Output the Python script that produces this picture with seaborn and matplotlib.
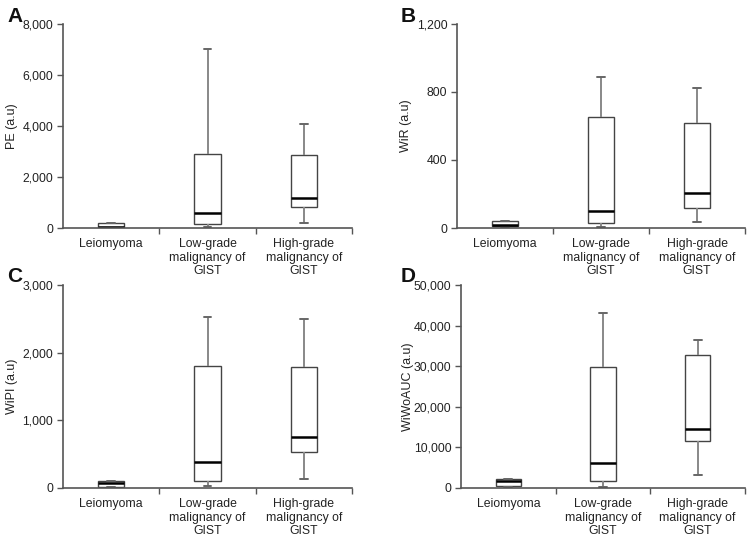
import numpy as np
import pandas as pd
import matplotlib
matplotlib.use('Agg')
import matplotlib.pyplot as plt
from matplotlib.ticker import FuncFormatter
import seaborn as sns

# Gruppen
groups = ['Leiomyoma', 'Low-grade malignancy of GIST', 'High-grade malignancy of GIST']
tick_labels = ['Leiomyoma', 'Low-grade\nmalignancy of\nGIST', 'High-grade\nmalignancy of\nGIST']

# Fuenf-Punkte-Zusammenfassung je Gruppe: min, q1, median, q3, max
pe_leio = [5, 30, 50, 200, 210]
pe_low = [40, 145, 600, 2920, 7030]
pe_high = [195, 840, 1180, 2880, 4085]

wir_leio = [8, 14, 16, 39, 40]
wir_low = [6, 29, 102, 652, 888]
wir_high = [33, 118, 204, 617, 825]

wipi_leio = [20, 20, 69, 108, 110]
wipi_low = [30, 108, 379, 1810, 2533]
wipi_high = [128, 536, 748, 1781, 2504]

wiwo_leio = [330, 570, 1720, 2300, 2300]
wiwo_low = [330, 1640, 6230, 29840, 43200]
wiwo_high = [3115, 11475, 14430, 32790, 36560]

panels = [
    ('A', 'PE (a.u)', [pe_leio, pe_low, pe_high], 8000, 2000),
    ('B', 'WiR (a.u)', [wir_leio, wir_low, wir_high], 1200, 400),
    ('C', 'WiPI (a.u)', [wipi_leio, wipi_low, wipi_high], 3000, 1000),
    ('D', 'WiWoAUC (a.u)', [wiwo_leio, wiwo_low, wiwo_high], 50000, 10000),
]

sns.set_style('ticks')
plt.rcParams['font.family'] = ['Liberation Sans', 'DejaVu Sans']

W, H = 753, 540
fig = plt.figure(figsize=(W / 100, H / 100), dpi=100)

# Achsen-Rahmen in Pixeln: links, oben, rechts, unten
boxes_px = [(63, 24, 352, 228), (457, 24, 745, 228),
            (63, 285, 352, 488), (461, 285, 745, 488)]
letter_px = [(7, 16), (401, 16), (7, 277), (401, 277)]
ylabel_px = [18, 412, 18, 414]

spine_col = '#555555'
cap_col = '#666666'
txt_col = '#222222'

for (letter, ylab, vals, ymax, step), (l, t, r, b), (lx, ly), yx in zip(panels, boxes_px, letter_px, ylabel_px):
    ax = fig.add_axes([l / W, 1 - b / H, (r - l) / W, (b - t) / H])
    df = pd.DataFrame({
        'group': np.repeat(groups, [len(v) for v in vals]),
        'value': np.concatenate(vals),
    })
    sns.boxplot(data=df, x='group', y='value', order=groups, ax=ax,
                whis=(0, 100), width=0.27, color='white', linewidth=1.0,
                boxprops=dict(edgecolor='#444444', facecolor='white'),
                whiskerprops=dict(color='#888888', linewidth=1.4),
                capprops=dict(color=cap_col, linewidth=1.4),
                medianprops=dict(color='black', linewidth=1.8),
                showfliers=False)
    # Kappen schmaler machen (um ihre Mitte)
    for ln in ax.lines:
        if ln.get_color() == cap_col:
            xd = np.asarray(ln.get_xdata(), dtype=float)
            c = xd.mean()
            ln.set_xdata(c + (xd - c) * 0.6)
    ax.set_xlim(-0.5, 2.5)
    ax.set_ylim(0, ymax)
    ax.set_yticks(np.arange(0, ymax + 1, step))
    ax.yaxis.set_major_formatter(FuncFormatter(lambda v, p: f'{int(v):,}'))
    ax.set_xticks([0, 1, 2])
    ax.set_xticklabels(tick_labels, fontsize=8.8, color=txt_col)
    ax.set_xticks([0.5, 1.5, 2.5], minor=True)
    ax.tick_params(axis='x', which='major', length=0, pad=7)
    ax.tick_params(axis='x', which='minor', length=4, color=spine_col, width=1)
    ax.tick_params(axis='y', length=4, color=spine_col, width=1,
                   labelsize=8.8, labelcolor=txt_col, pad=3)
    ax.set_xlabel('')
    ax.set_ylabel(ylab, fontsize=9, color=txt_col)
    ax.yaxis.set_label_coords((yx - l) / (r - l), 0.5)
    for s in ['top', 'right']:
        ax.spines[s].set_visible(False)
    for s in ['left', 'bottom']:
        ax.spines[s].set_color(spine_col)
        ax.spines[s].set_linewidth(1.2)
    fig.text(lx / W, 1 - ly / H, letter, fontsize=15, fontweight='bold',
             va='center', ha='left', color='#111111')

fig.savefig('out.png', dpi=100)
